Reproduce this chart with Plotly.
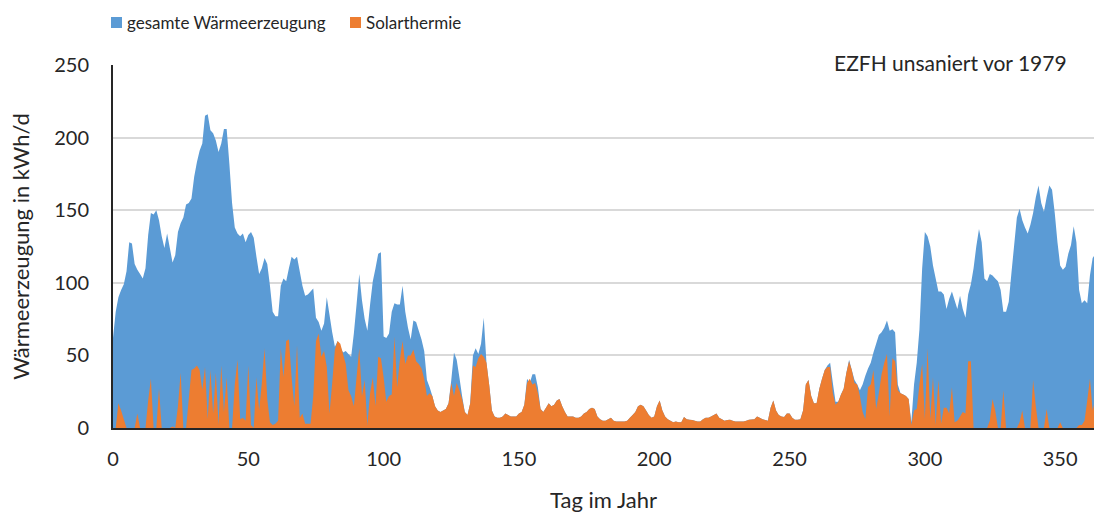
import plotly.graph_objects as go

# Day of year (0..363)
days = list(range(364))

# gesamte Wärmeerzeugung (kWh/d)
total = [
    62, 80, 90, 95, 99, 108, 128, 127, 113, 109,
    106, 103, 110, 133, 148, 147, 150, 143, 132, 124,
    134, 124, 114, 119, 135, 141, 145, 154, 155, 158,
    173, 183, 191, 196, 215, 216, 205, 203, 198, 190,
    196, 206, 206, 182, 155, 138, 134, 132, 134, 128,
    133, 135, 131, 118, 106, 110, 117, 113, 98, 80,
    77, 77, 98, 103, 101, 110, 118, 116, 118, 108,
    98, 91, 92, 94, 96, 76, 73, 67, 72, 90,
    78, 66, 56, 60, 56, 52, 53, 51, 49, 65,
    85, 106, 88, 75, 67, 85, 101, 110, 120, 121,
    63, 62, 65, 80, 86, 85, 85, 98, 80, 69,
    61, 74, 73, 67, 61, 53, 33, 28, 22, 15,
    12, 11, 12, 13, 17, 33, 52, 47, 35, 22,
    11, 9, 17, 50, 55, 51, 58, 76, 45, 30,
    12, 8, 7, 7, 8, 10, 9, 8, 8, 8,
    10, 11, 16, 34, 31, 37, 37, 28, 13, 11,
    14, 17, 15, 16, 19, 20, 15, 11, 8, 8,
    8, 7, 7, 8, 10, 11, 13, 14, 13, 8,
    6, 5, 5, 6, 7, 5, 4.5, 4.5, 4.5, 4.5,
    5, 7, 9, 11, 15, 16, 15, 12, 9, 7,
    8, 15, 19, 12, 8, 6, 5, 4, 4.5, 4,
    4, 7.5, 6, 5.7, 5.5, 5, 4.5, 4.5, 6, 7,
    7, 8, 9, 10, 7, 6, 5, 5.5, 5.7, 5,
    4.5, 4.5, 4.5, 4.5, 5, 5.7, 5.8, 6, 8, 7,
    6, 5.5, 5, 14, 19, 12, 9, 8, 7.5, 10,
    10, 7, 5.7, 5.7, 6, 12, 30, 33, 22, 17,
    17, 27, 34, 40, 43, 45, 31, 18, 18, 23,
    27, 38, 47, 40, 33, 30, 26, 30, 36, 41,
    45, 52, 58, 64, 66, 69, 74, 67, 68, 66,
    30, 24, 23, 22, 20, 4, 30, 45, 68, 110,
    135, 132, 125, 112, 103, 94, 94, 92, 82, 89,
    94, 88, 82, 91, 82, 76, 92, 99, 110, 125,
    137, 128, 103, 101, 106, 105, 103, 101, 95, 80,
    80, 87, 107, 126, 145, 151, 143, 138, 134, 140,
    148, 159, 167, 155, 149, 159, 167, 164, 148, 128,
    112, 109, 111, 120, 126, 139, 128, 95, 86, 88,
    86, 105, 117, 120,
]

# Solarthermie (kWh/d)
solar = [
    0, 0, 17, 12, 6, 0, 0, 0, 0, 10,
    0, 0, 0, 19, 34, 0, 0, 27, 0, 0,
    0, 0, 1, 0, 15, 38, 0, 0, 20, 40,
    41, 43, 40, 26, 42, 6, 40, 10, 38, 2,
    43, 11, 35, 0, 0, 30, 47, 6, 7, 5,
    43, 2, 0, 35, 12, 31, 55, 20, 4, 2,
    3, 5, 55, 35, 60, 61, 35, 15, 57, 7,
    10, 3, 3, 3, 22, 60, 65, 49, 53, 42,
    10, 31, 54, 60, 58, 51, 44, 26, 22, 15,
    35, 55, 22, 33, 2, 24, 35, 15, 49, 48,
    35, 18, 22, 23, 63, 28, 47, 60, 44, 50,
    50, 54, 46, 44, 41, 34, 22, 24, 22, 15,
    12, 11, 12, 13, 17, 31, 22, 31, 26, 20,
    11, 9, 17, 43, 42, 48, 51, 49, 45, 30,
    12, 8, 7, 7, 8, 10, 9, 8, 8, 8,
    10, 11, 16, 31, 34, 30, 31, 24, 13, 11,
    14, 17, 15, 16, 19, 20, 15, 11, 8, 8,
    8, 7, 7, 8, 10, 11, 13, 14, 13, 8,
    6, 5, 5, 6, 7, 5, 4.5, 4.5, 4.5, 4.5,
    5, 7, 9, 11, 15, 16, 15, 12, 9, 7,
    8, 15, 19, 12, 8, 6, 5, 4, 4.5, 4,
    4, 7.5, 6, 5.7, 5.5, 5, 4.5, 4.5, 6, 7,
    7, 8, 9, 10, 7, 6, 5, 5.5, 5.7, 5,
    4.5, 4.5, 4.5, 4.5, 5, 5.7, 5.8, 6, 8, 7,
    6, 5.5, 5, 14, 19, 12, 9, 8, 7.5, 10,
    10, 7, 5.7, 5.7, 6, 12, 30, 33, 22, 17,
    17, 27, 34, 40, 42, 42, 24, 16, 18, 23,
    27, 38, 46, 40, 31, 30, 22, 11, 6, 28,
    30, 40, 13, 24, 37, 45, 51, 8, 48, 46,
    26, 24, 23, 22, 20, 2, 12, 13, 30, 44,
    6, 55, 6, 35, 2, 33, 3, 14, 14, 10,
    28, 4, 5, 8, 11, 10, 46, 46, 0, 0,
    0, 0, 0, 0, 5, 20, 12, 0, 0, 26,
    0, 0, 0, 0, 0, 4, 12, 0, 0, 0,
    33, 15, 0, 0, 0, 13, 0, 0, 0, 0,
    4, 0, 0, 0, 0, 0, 0, 2, 2, 5,
    19, 34, 12, 20,
]

x_ticks = [0, 50, 100, 150, 200, 250, 300, 350]
y_ticks = [0, 50, 100, 150, 200, 250]

BLUE = "#5B9BD5"
ORANGE = "#ED7D31"
FONT = "Lato"
TXT = "#262626"

W, H = 1094, 513
ML, MR, MT, MB = 113, 0, 65, 85
PW, PH = W - ML - MR, H - MT - MB


def px_x(px):
    return (px - ML) / PW


def px_y(py):
    return (H - MB - py) / PH


fig = go.Figure()
fig.add_trace(go.Scatter(x=days, y=total, mode="none", fill="tozeroy",
                         fillcolor=BLUE, name="gesamte Wärmeerzeugung",
                         showlegend=False))
fig.add_trace(go.Scatter(x=days, y=solar, mode="none", fill="tozeroy",
                         fillcolor=ORANGE, name="Solarthermie",
                         showlegend=False))

fig.update_layout(
    width=W, height=H,
    margin=dict(l=ML, r=MR, t=MT, b=MB),
    paper_bgcolor="white", plot_bgcolor="white",
    font=dict(family=FONT, size=20, color=TXT),
    xaxis=dict(range=[0, 362.5], tickvals=x_ticks, showgrid=False,
               showline=True, linecolor="#262626", linewidth=2,
               ticks="", zeroline=False, tickfont=dict(size=20),
               ticklabelstandoff=12, automargin=False,
               title=dict(text="Tag im Jahr", font=dict(size=22), standoff=30)),
    yaxis=dict(range=[0, 250], tickvals=y_ticks, showgrid=True,
               gridcolor="#D9D9D9", gridwidth=1.5,
               showline=True, linecolor="#262626", linewidth=2,
               ticks="", zeroline=False, tickfont=dict(size=20),
               ticklabelstandoff=18, automargin=False,
               title=dict(text="Wärmeerzeugung in kWh/d", font=dict(size=22), standoff=18)),
)

# Manual legend
legend_items = [("gesamte Wärmeerzeugung", BLUE, 111), ("Solarthermie", ORANGE, 350)]
for label, color, px in legend_items:
    fig.add_shape(type="rect", xref="paper", yref="paper",
                  x0=px_x(px), x1=px_x(px + 11),
                  y0=px_y(28), y1=px_y(17),
                  fillcolor=color, line=dict(width=0))
    fig.add_annotation(text=label, xref="paper", yref="paper",
                       x=px_x(px + 14), y=px_y(22),
                       xanchor="left", yanchor="middle", showarrow=False,
                       font=dict(size=17, color=TXT, family=FONT))

fig.add_annotation(text="EZFH unsaniert vor 1979", xref="paper", yref="paper",
                   x=px_x(1082), y=px_y(63),
                   xanchor="right", yanchor="middle", showarrow=False,
                   bgcolor="white", borderpad=14,
                   font=dict(size=21, color=TXT, family=FONT))

fig.write_html("out.html", config={"displayModeBar": False},
               post_script="document.body.style.margin='0';document.body.style.overflow='hidden';")
